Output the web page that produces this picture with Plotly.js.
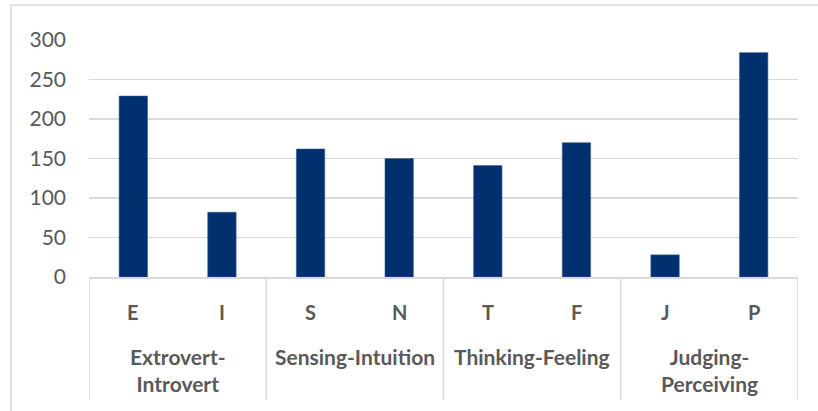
<!DOCTYPE html>
<html>
<head>
<meta charset="utf-8">
<script src="https://cdn.plot.ly/plotly-3.0.1.min.js"></script>
<style>
html,body{margin:0;padding:0;background:#fff;}
#chart{width:818px;height:411px;}
</style>
</head>
<body>
<div id="chart"></div>
<script>
const letters = ["E","I","S","N","T","F","J","P"];
const values = [229, 82, 162, 150, 141, 170, 28, 284];
const groups = ["Extrovert-<br>Introvert","Sensing-Intuition","Thinking-Feeling","Judging-<br>Perceiving"];
const groupSize = 2;
const yTicks = [0,50,100,150,200,250,300];

const textColor = "#595959";
const lineColor = "#d9d9d9";
const font = "Lato, 'Open Sans', sans-serif";

const annotations = [];
letters.forEach((l,i)=>{
  annotations.push({x:i, xref:"x", y:0, yref:"paper", yanchor:"middle", xanchor:"center",
    yshift:-35, text:"<b>"+l+"</b>", showarrow:false,
    font:{family:font, size:20, color:textColor}});
});
groups.forEach((g,k)=>{
  annotations.push({x:k*groupSize+(groupSize-1)/2, xref:"x", y:0, yref:"paper", yanchor:"top", xanchor:"center",
    yshift:-65, text:"<b>"+g+"</b>", showarrow:false,
    font:{family:font, size:21, color:textColor}});
});

const shapes = [];
for(let k=0;k<=groups.length;k++){
  const xv = k*groupSize-0.5;
  shapes.push({type:"line", xref:"x", yref:"paper", x0:xv, x1:xv, y0:0, y1:-123/237,
    line:{color:lineColor, width:1.5}});
}
// outer chart frame (left and top edges visible)
shapes.push({type:"line", xref:"paper", yref:"paper", x0:(11-89)/709, x1:(11-89)/709, y0:(277-5)/237, y1:(277-420)/237, line:{color:lineColor,width:1.5}});
shapes.push({type:"line", xref:"paper", yref:"paper", x0:(11-89)/709, x1:(830-89)/709, y0:(277-5)/237, y1:(277-5)/237, line:{color:lineColor,width:1.5}});

const trace = {
  type:"bar", x:letters, y:values,
  marker:{color:"#00306E", line:{color:"#3a5a94", width:0.6}},
  hoverinfo:"skip"
};

const layout = {
  width:818, height:411,
  margin:{l:89, r:20, t:40, b:134},
  paper_bgcolor:"#ffffff", plot_bgcolor:"#ffffff",
  showlegend:false,
  bargap:0.68,
  xaxis:{type:"category", showticklabels:false, showgrid:false, zeroline:false,
    showline:true, linecolor:lineColor, linewidth:1.5, ticks:"", range:[-0.5,7.5], fixedrange:true},
  yaxis:{range:[0,300], tickvals:yTicks, showgrid:true, gridcolor:lineColor, gridwidth:1.5,
    zeroline:false, showline:false, ticks:"", ticklabelstandoff:22,
    tickfont:{family:font, size:21, color:textColor}, fixedrange:true},
  annotations:annotations,
  shapes:shapes
};

Plotly.newPlot("chart",[trace],layout,{displayModeBar:false, staticPlot:true});
</script>
</body>
</html>
